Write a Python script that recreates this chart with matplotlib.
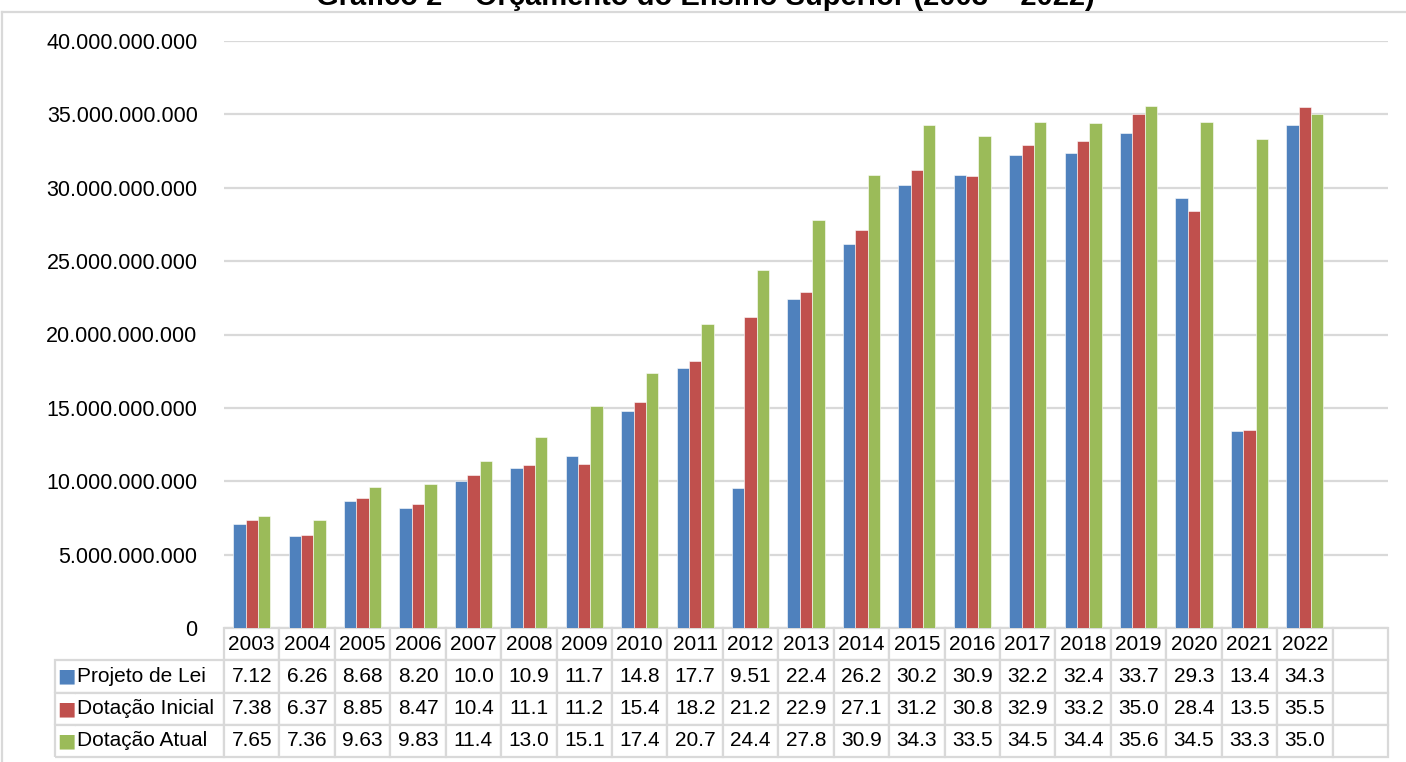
import matplotlib
matplotlib.use("Agg")
import matplotlib.pyplot as plt
from matplotlib.lines import Line2D
import numpy as np

plt.rcParams['font.family'] = ['Liberation Sans', 'DejaVu Sans']

anos = ['2003', '2004', '2005', '2006', '2007', '2008', '2009', '2010', '2011', '2012',
        '2013', '2014', '2015', '2016', '2017', '2018', '2019', '2020', '2021', '2022']
# valores em bilhões de reais
projeto_lei = [7.12, 6.26, 8.68, 8.20, 10.0, 10.9, 11.7, 14.8, 17.7, 9.51,
               22.4, 26.2, 30.2, 30.9, 32.2, 32.4, 33.7, 29.3, 13.4, 34.3]
dotacao_inicial = [7.38, 6.37, 8.85, 8.47, 10.4, 11.1, 11.2, 15.4, 18.2, 21.2,
                   22.9, 27.1, 31.2, 30.8, 32.9, 33.2, 35.0, 28.4, 13.5, 35.5]
dotacao_atual = [7.65, 7.36, 9.63, 9.83, 11.4, 13.0, 15.1, 17.4, 20.7, 24.4,
                 27.8, 30.9, 34.3, 33.5, 34.5, 34.4, 35.6, 34.5, 33.3, 35.0]
series = ['Projeto de Lei', 'Dotação Inicial', 'Dotação Atual']
cores = ['#4F81BD', '#C0504D', '#9BBB59']
yticks = [0, 5e9, 10e9, 15e9, 20e9, 25e9, 30e9, 35e9, 40e9]

W, H = 1406, 762
fig = plt.figure(figsize=(W / 100, H / 100), dpi=100)

# plot area in pixels
x0, x1, ytop, ybot = 224, 1388, 41, 628
ax = fig.add_axes([x0 / W, 1 - ybot / H, (x1 - x0) / W, (ybot - ytop) / H])

n = len(anos)
x = np.arange(n)
bw = 0.224
dados = [projeto_lei, dotacao_inicial, dotacao_atual]
for i, (vals, cor) in enumerate(zip(dados, cores)):
    ax.bar(x + (i - 1) * bw, np.array(vals) * 1e9, width=bw, color=cor,
           edgecolor='white', linewidth=0.4, zorder=3)

ax.set_xlim(-0.5, n + 0.5)
ax.set_ylim(0, 40e9)
ax.set_yticks(yticks)
ax.set_yticklabels(['0' if v == 0 else f"{int(v):,}".replace(',', '.') for v in yticks],
                   fontsize=15.5)
ax.tick_params(axis='y', length=0, pad=19)
ax.set_xticks([])
ax.grid(axis='y', color='#D9D9D9', linewidth=1.6, zorder=0)
for s in ax.spines.values():
    s.set_visible(False)

# tabela de dados
def fmt(v):
    return f"{v:.2f}" if v < 10 else f"{v:.1f}"

linhas = [['', ''] + anos + ['']]
for nome, vals in zip(series, dados):
    linhas.append(['■', nome] + [fmt(v) for v in vals] + [''])

key_w, lab_w = 21, 148
col_w = (x1 - x0) / (n + 1)
widths = [key_w, lab_w] + [col_w] * (n + 1)
tab_left = x0 - key_w - lab_w
tab_bottom = 757
tab = ax.table(cellText=linhas, colWidths=[w / (x1 - x0) for w in widths],
               bbox=[(tab_left - x0) / (x1 - x0), -(tab_bottom - ybot) / (ybot - ytop),
                     (x1 - tab_left) / (x1 - x0), (tab_bottom - ybot) / (ybot - ytop)],
               cellLoc='center')
tab.auto_set_font_size(False)
tab.set_fontsize(15)
for (r, c), cell in tab.get_celld().items():
    cell.set_edgecolor('#D9D9D9')
    cell.set_linewidth(1.6)
    txt = cell.get_text()
    txt.set_color('black')
    if r == 0 and c < 2:
        cell.visible_edges = ''
    elif c == 0:
        cell.visible_edges = 'BTL'
        txt.set_color(cores[r - 1])
        txt.set_fontsize(14)
        txt.set_fontfamily('DejaVu Sans')
        cell._loc = 'right'
        cell.PAD = 0.02
    elif c == 1:
        cell.visible_edges = 'BTR'
        cell._loc = 'left'
        cell.PAD = 0.01
    cell.set_text_props(ha=cell._loc if cell._loc in ('left', 'right') else 'center')

fig.text(0.502, 1 - 5 / H, 'Gráfico 2 – Orçamento do Ensino Superior (2003 – 2022)',
         ha='center', va='baseline', fontsize=21, fontweight='bold')

# moldura do gráfico
fig.add_artist(Line2D([2 / W, 1], [1 - 12 / H, 1 - 12 / H], transform=fig.transFigure,
                      color='#D9D9D9', linewidth=1.6))
fig.add_artist(Line2D([2 / W, 2 / W], [0, 1 - 12 / H], transform=fig.transFigure,
                      color='#D9D9D9', linewidth=1.6))

fig.savefig('out.png', dpi=100)
